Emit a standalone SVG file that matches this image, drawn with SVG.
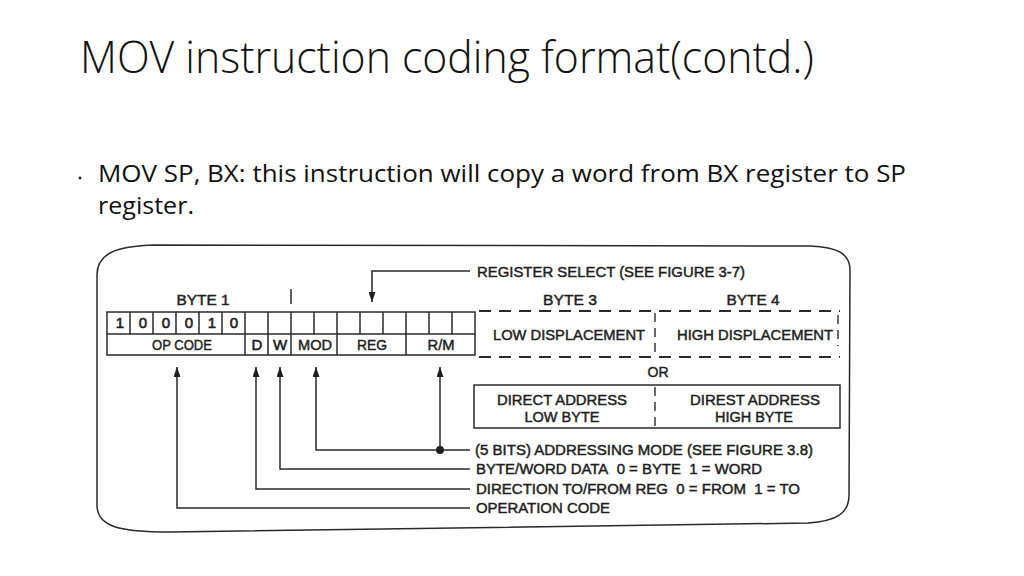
<svg xmlns="http://www.w3.org/2000/svg" width="1024" height="576" viewBox="0 0 1024 576">
<defs>
<style>
.t{font-family:"Liberation Sans",Arial,sans-serif;font-size:14px;fill:#1e1e1e;stroke:#1e1e1e;stroke-width:0.45;white-space:pre}
.b{font-size:15px;stroke-width:0.6}
.c{text-anchor:middle}
.ln{fill:none;stroke:#2a2a2a;stroke-width:1.5}
.dl{fill:none;stroke:#2a2a2a;stroke-width:1.8;stroke-dasharray:12 8}
.dv{fill:none;stroke:#2a2a2a;stroke-width:1.4;stroke-dasharray:9 6}
.title{font-family:"Open Sans",Lato,sans-serif;font-weight:300;font-size:44px;fill:#111;font-variant-ligatures:none}
.body{font-family:"Open Sans",Lato,sans-serif;font-size:23px;fill:#111;font-variant-ligatures:none}
</style>
<marker id="ah" viewBox="0 0 10 10" refX="10" refY="5" markerWidth="10" markerHeight="7" markerUnits="userSpaceOnUse" orient="auto" preserveAspectRatio="none">
<path d="M0,0 L10,5 L0,10 Z" fill="#1e1e1e"/>
</marker>
</defs>
<rect width="1024" height="576" fill="#ffffff"/>

<g id="title">
<text class="title" x="80" y="73" textLength="734" lengthAdjust="spacingAndGlyphs">MOV instruction coding format(contd.)</text>
</g>
<g id="bullet">
<circle cx="80" cy="178" r="1.4" fill="#222"/>
<text class="body" x="98" y="182" textLength="808" lengthAdjust="spacingAndGlyphs">MOV SP, BX: this instruction will copy a word from BX register to SP</text>
<text class="body" x="98" y="214" textLength="96" lengthAdjust="spacingAndGlyphs">register.</text>
</g>

<g id="frame">
<path class="ln" d="M97 275 C97 254 115 246 155 245 L810 246 C838 247 850 254 850 270 L849 495 C849 514 836 521 808 523 L170 532 C120 532 97 527 97 505 Z"/>
</g>

<g id="byte1">
<text class="t c" x="203" y="305" textLength="53" lengthAdjust="spacingAndGlyphs">BYTE 1</text>
<line class="ln" x1="291" y1="289" x2="291" y2="304"/>
<rect class="ln" x="107" y="312" width="368" height="43"/>
<line class="ln" x1="107" y1="334" x2="475" y2="334"/>
<path class="ln" d="M130 312V334M153 312V334M176 312V334M199 312V334M222 312V334M268 312V334M314 312V334M360 312V334M383 312V334M429 312V334M452 312V334"/>
<path class="ln" d="M245 312V355M268 334V355M291 312V355M337 312V355M406 312V355"/>
<text class="t b c" x="120" y="328">1</text>
<text class="t b c" x="143" y="328">0</text>
<text class="t b c" x="166" y="328">0</text>
<text class="t b c" x="189" y="328">0</text>
<text class="t b c" x="212" y="328">1</text>
<text class="t b c" x="234" y="328">0</text>
<text class="t c" x="182" y="350" textLength="60" lengthAdjust="spacingAndGlyphs">OP CODE</text>
<text class="t b c" x="257" y="350">D</text>
<text class="t b c" x="280" y="350">W</text>
<text class="t c" x="315" y="350" textLength="34" lengthAdjust="spacingAndGlyphs">MOD</text>
<text class="t c" x="372" y="350" textLength="30" lengthAdjust="spacingAndGlyphs">REG</text>
<text class="t c" x="441" y="350" textLength="27" lengthAdjust="spacingAndGlyphs">R/M</text>
</g>

<g id="byte34">
<text class="t c" x="570" y="305" textLength="54" lengthAdjust="spacingAndGlyphs">BYTE 3</text>
<text class="t c" x="753" y="305" textLength="53" lengthAdjust="spacingAndGlyphs">BYTE 4</text>
<line class="dl" x1="479" y1="311" x2="840" y2="311"/>
<line class="dl" x1="479" y1="357" x2="840" y2="357"/>
<line class="dv" x1="655" y1="313" x2="655" y2="356"/>
<line class="dv" x1="838" y1="315" x2="838" y2="346"/>
<text class="t c" x="569" y="340" textLength="152" lengthAdjust="spacingAndGlyphs">LOW DISPLACEMENT</text>
<text class="t c" x="755" y="340" textLength="156" lengthAdjust="spacingAndGlyphs">HIGH DISPLACEMENT</text>
</g>

<g id="or">
<text class="t c" x="658" y="377">OR</text>
</g>

<g id="direct">
<rect class="ln" x="474" y="385" width="366" height="43"/>
<line class="dv" x1="655" y1="387" x2="655" y2="427"/>
<text class="t c" x="562" y="405" textLength="130" lengthAdjust="spacingAndGlyphs">DIRECT ADDRESS</text>
<text class="t c" x="562" y="422" textLength="75" lengthAdjust="spacingAndGlyphs">LOW BYTE</text>
<text class="t c" x="755" y="405" textLength="130" lengthAdjust="spacingAndGlyphs">DIREST ADDRESS</text>
<text class="t c" x="754" y="422" textLength="78" lengthAdjust="spacingAndGlyphs">HIGH BYTE</text>
</g>

<g id="labels">
<text class="t" x="477" y="277" textLength="268" lengthAdjust="spacingAndGlyphs">REGISTER SELECT (SEE FIGURE 3-7)</text>
<text class="t" x="475" y="455" textLength="338" lengthAdjust="spacingAndGlyphs">(5 BITS) ADDRESSING MODE (SEE FIGURE 3.8)</text>
<text class="t" x="476" y="474" textLength="286" lengthAdjust="spacingAndGlyphs">BYTE/WORD DATA&#160; 0 = BYTE&#160; 1 = WORD</text>
<text class="t" x="476" y="494" textLength="324" lengthAdjust="spacingAndGlyphs">DIRECTION TO/FROM REG&#160; 0 = FROM&#160; 1 = TO</text>
<text class="t" x="476" y="513" textLength="134" lengthAdjust="spacingAndGlyphs">OPERATION CODE</text>
</g>

<g id="connectors">
<path class="ln" d="M470 271 H372 V302" marker-end="url(#ah)"/>
<path class="ln" d="M470 450 H316 V367" marker-end="url(#ah)"/>
<path class="ln" d="M440 450 V367" marker-end="url(#ah)"/>
<circle cx="440" cy="450" r="4" fill="#1e1e1e"/>
<path class="ln" d="M470 469 H280 V367" marker-end="url(#ah)"/>
<path class="ln" d="M470 489 H256 V367" marker-end="url(#ah)"/>
<path class="ln" d="M470 508 H177 V367" marker-end="url(#ah)"/>
</g>
</svg>
